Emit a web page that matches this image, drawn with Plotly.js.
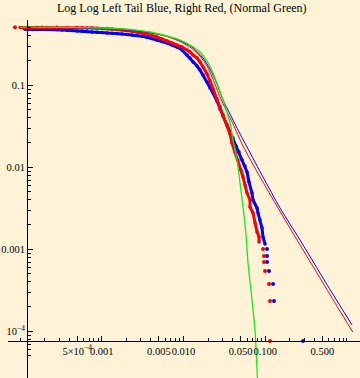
<!DOCTYPE html>
<html>
<head>
<meta charset="utf-8">
<script src="https://cdn.plot.ly/plotly-3.0.1.min.js"></script>
<style>html,body{margin:0;padding:0;background:#fef3d6;}#chart{width:360px;height:378px;}</style>
</head>
<body>
<div id="chart"></div>
<script>
// ---- data ----
const titleText = "Log Log Left Tail Blue, Right Red, (Normal Green)";

// Left tail (blue) empirical survival – dense body
const blueBodyX = [1.148e-4,1.25e-4,1.438e-4,1.61e-4,2.13e-4,2.83e-4,3.26e-4,3.75e-4,4.32e-4,4.97e-4,5.72e-4,6.59e-4,7.59e-4,8.73e-4,1.006e-3,1.158e-3,1.333e-3,1.535e-3,1.767e-3,2.034e-3,2.342e-3,2.696e-3,3.105e-3,3.574e-3,4.115e-3,4.738e-3,5.454e-3,6.281e-3,7.231e-3,8.326e-3,9.585e-3,0.01104,0.01201,0.01307,0.01463,0.01592,0.01733,0.01940,0.02110,0.02297,0.02570,0.02798,0.03045,0.03407,0.03709,0.04036,0.04391,0.04779,0.05200,0.05659,0.05986,0.06334,0.06893,0.07090,0.07937,0.08163,0.08639,0.09139,0.09400,0.09945];
const blueBodyY = [0.4818,0.4791,0.4791,0.4791,0.4791,0.4791,0.4727,0.4689,0.4663,0.4595,0.4557,0.4532,0.4467,0.4430,0.4405,0.4343,0.4307,0.4283,0.4223,0.4164,0.4105,0.4048,0.3969,0.3849,0.3723,0.3568,0.3422,0.3280,0.3101,0.2932,0.2695,0.2342,0.2152,0.1924,0.1720,0.1537,0.1336,0.1097,0.0927,0.0806,0.0643,0.0514,0.0422,0.03279,0.02694,0.02277,0.01817,0.01536,0.01227,0.01037,0.00876,0.00661,0.00486,0.00399,0.00319,0.00277,0.00228,0.00182,0.00141,0.00116];
// Left tail (blue) – sparse extreme points
const blueTailX = [0.1052,0.1052,0.1052,0.1113,0.1246,0.1282,0.2902];
const blueTailY = [0.001008,0.000829,0.000700,0.000544,0.000377,0.000234,7.61e-5];

// Right tail (red) empirical survival – dense body
const redBodyX = [1.0e-4,1.148e-4,1.25e-4,1.61e-4,1.85e-4,2.13e-4,2.83e-4,3.75e-4,4.97e-4,5.72e-4,6.59e-4,7.59e-4,8.73e-4,1.006e-3,1.158e-3,1.333e-3,1.535e-3,1.767e-3,2.034e-3,2.342e-3,2.696e-3,3.105e-3,3.574e-3,4.115e-3,4.738e-3,5.454e-3,6.281e-3,7.231e-3,8.326e-3,9.585e-3,0.01104,0.01201,0.01307,0.01463,0.01592,0.01733,0.01940,0.02110,0.02297,0.02570,0.02798,0.03045,0.03407,0.03709,0.03924,0.04269,0.04646,0.05057,0.05349,0.05659,0.05986,0.06516,0.06516,0.07090,0.07503,0.07937,0.08398,0.08398];
const redBodyY = [0.5069,0.5069,0.5097,0.5097,0.5097,0.5069,0.5097,0.5069,0.5069,0.5040,0.4996,0.4996,0.4954,0.4926,0.4926,0.4857,0.4791,0.4727,0.4663,0.4595,0.4467,0.4343,0.4223,0.4048,0.3882,0.3672,0.3470,0.3280,0.3101,0.2932,0.2695,0.2548,0.2342,0.2152,0.1924,0.1672,0.1374,0.1128,0.0902,0.0681,0.0544,0.0434,0.03279,0.02546,0.01978,0.01536,0.01227,0.00927,0.00762,0.00608,0.00486,0.00399,0.00328,0.00277,0.00209,0.00163,0.00141,0.00123];
// Right tail (red) – sparse extreme points
const redTailX = [8.66e-5,0.09400,0.09667,0.09667,0.09945,0.1113,0.1145,0.1145];
const redTailY = [0.5097,0.001008,0.000829,0.000700,0.000544,0.000377,0.000234,7.61e-5];

// Fitted tail curves
const blueFitX = [1.215e-4,9.51e-4,2.935e-3,5.937e-3,9.06e-3,0.01270,0.01733,0.02110,0.02570,0.03045,0.03709,0.04517,0.05986,0.09400,0.1518,0.2667,0.5549,1.1546];
const blueFitY = [0.5097,0.4954,0.4595,0.4048,0.3519,0.2932,0.2152,0.1581,0.1037,0.0662,0.0446,0.03007,0.01768,0.00762,0.00319,0.00130,3.88e-4,1.193e-4];
const redFitX = [1.215e-4,9.51e-4,2.935e-3,5.937e-3,9.06e-3,0.01270,0.01592,0.01940,0.02297,0.02798,0.03313,0.04036,0.05349,0.08639,0.1435,0.2667,0.5549,1.178];
const redFitY = [0.5097,0.4954,0.4570,0.3991,0.3422,0.2811,0.2277,0.1720,0.1194,0.0720,0.0500,0.03372,0.01817,0.00762,0.00319,0.00113,3.37e-4,9.80e-5];

// Normal reference curve (green)
const normalX = [1.0e-4,3.08e-4,9.51e-4,2.214e-3,3.890e-3,5.937e-3,9.06e-3,0.01201,0.01592,0.01940,0.02297,0.02644,0.03045,0.03709,0.04036,0.04517,0.04916,0.05349,0.05821,0.06158,0.06516,0.06893,0.07503,0.07937,0.08048];
const normalY = [0.5111,0.5083,0.4996,0.4791,0.4467,0.4048,0.3568,0.3101,0.2548,0.1979,0.1413,0.0981,0.0662,0.03469,0.02153,0.01227,0.00643,0.00328,0.00149,0.000681,0.000398,2.41e-4,1.037e-4,3.37e-5,2.55e-5];

// Axis ticks
const xTickVals = [5e-4,0.001,0.005,0.01,0.05,0.1,0.5];
const xTickText = ["5\u00d710<sup>\u22124</sup>","0.001","0.005","0.010","0.050","0.100","0.500"];
const xMinorVals = [1e-4,2e-4,3e-4,4e-4,6e-4,7e-4,8e-4,9e-4,2e-3,3e-3,4e-3,6e-3,7e-3,8e-3,9e-3,2e-2,3e-2,4e-2,6e-2,7e-2,8e-2,9e-2,0.2,0.3,0.4,0.6,0.7,0.8,0.9,1];
const yTickVals = [1e-4,0.001,0.01,0.1];
const yTickText = ["10<sup>\u22124</sup>","0.001","0.01","0.1"];
const yMinorVals = [5e-5,6e-5,7e-5,8e-5,9e-5,2e-4,3e-4,4e-4,5e-4,6e-4,7e-4,8e-4,9e-4,2e-3,3e-3,4e-3,5e-3,6e-3,7e-3,8e-3,9e-3,0.02,0.03,0.04,0.05,0.06,0.07,0.08,0.09,0.2,0.3,0.4,0.5];

const BLUE = "#0000ff", RED = "#ff0000", GREEN = "#11ee11";
const BG = "#fef3d6";

const traces = [
  {x: blueBodyX, y: blueBodyY, mode: "lines+markers", line: {color: BLUE, width: 3}, marker: {color: BLUE, size: 3.5}},
  {x: blueTailX, y: blueTailY, mode: "markers", marker: {color: BLUE, size: 4}},
  {x: redBodyX, y: redBodyY, mode: "lines+markers", line: {color: RED, width: 3}, marker: {color: RED, size: 3.5}},
  {x: redTailX, y: redTailY, mode: "markers", marker: {color: RED, size: 4}},
  {x: redFitX, y: redFitY, mode: "lines", line: {color: RED, width: 1, shape: "spline", smoothing: 0.6}},
  {x: blueFitX, y: blueFitY, mode: "lines", line: {color: BLUE, width: 1, shape: "spline", smoothing: 0.6}},
  {x: normalX, y: normalY, mode: "lines", line: {color: GREEN, width: 1.3, shape: "spline", smoothing: 0.6}}
];

const tickFont = {family: "Liberation Serif, Times New Roman, serif", size: 10.5, color: "#000"};

const layout = {
  width: 360, height: 378,
  margin: {l: 8, r: 0, t: 20, b: 0},
  paper_bgcolor: BG, plot_bgcolor: BG,
  showlegend: false,
  hovermode: false,
  title: {text: titleText, x: 0.505, xanchor: "center", y: 0.979, yanchor: "middle",
          font: {family: "Liberation Serif, Times New Roman, serif", size: 12, color: "#000"}},
  xaxis: {
    type: "log", range: [-4.148, 0.160],
    anchor: "free", position: 0.1034,
    showline: true, linecolor: "#000", linewidth: 1,
    showgrid: false, zeroline: false,
    ticks: "inside", ticklen: 5, tickwidth: 1, tickcolor: "#000",
    tickmode: "array", tickvals: xTickVals, ticktext: xTickText, tickangle: 0,
    minor: {tickmode: "array", tickvals: xMinorVals, ticks: "inside", ticklen: 3, tickcolor: "#000", showgrid: false},
    tickfont: tickFont, automargin: false
  },
  yaxis: {
    type: "log", range: [-4.5695, -0.2037],
    anchor: "free", position: 0.054,
    showline: true, linecolor: "#000", linewidth: 1,
    showgrid: false, zeroline: false,
    ticks: "inside", ticklen: 5, tickwidth: 1, tickcolor: "#000",
    tickmode: "array", tickvals: yTickVals, ticktext: yTickText, tickangle: 0,
    minor: {tickmode: "array", tickvals: yMinorVals, ticks: "inside", ticklen: 3, tickcolor: "#000", showgrid: false},
    tickfont: tickFont, automargin: false
  }
};

Plotly.newPlot("chart", traces, layout, {staticPlot: true, displayModeBar: false});
</script>
</body>
</html>
